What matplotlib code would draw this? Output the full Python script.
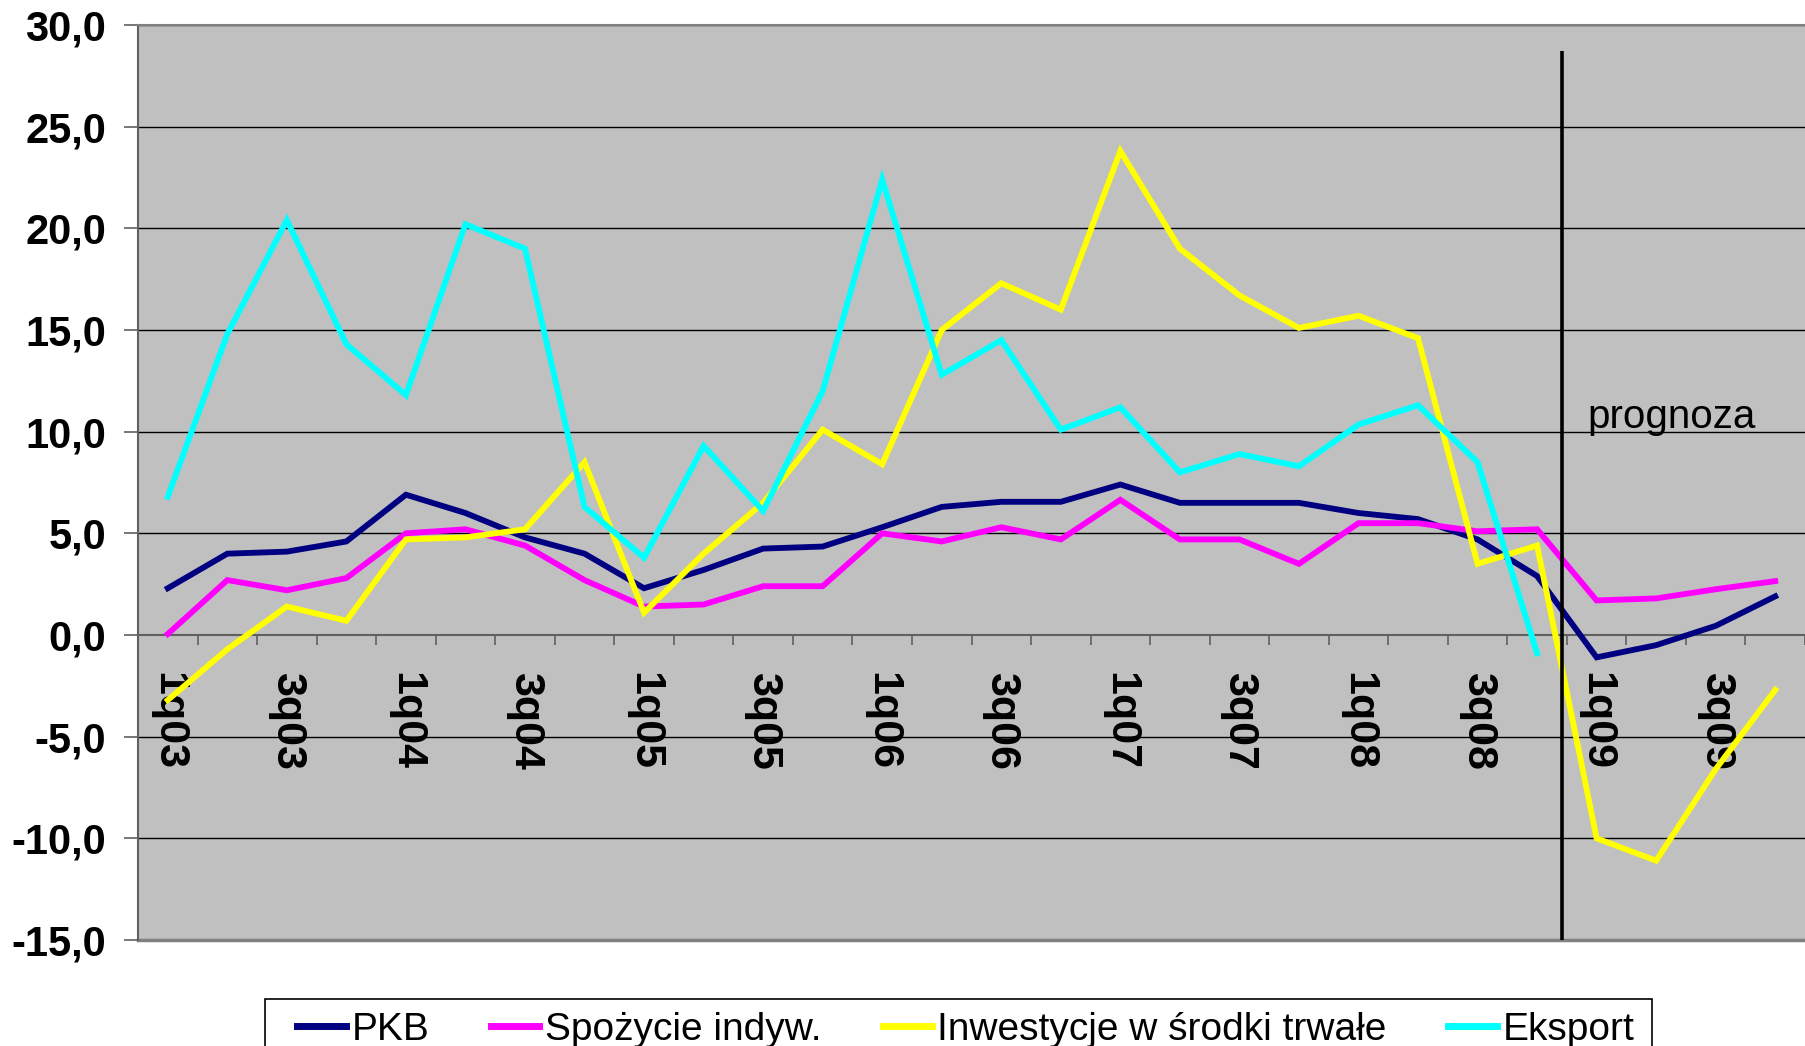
import matplotlib
matplotlib.use("Agg")
import matplotlib.pyplot as plt
from matplotlib.patches import Rectangle
from matplotlib.ticker import FixedLocator, FuncFormatter, NullFormatter
import numpy as np

# kwartały 2003-2009
kwartaly = [f"{q}q{r:02d}" for r in range(3, 10) for q in range(1, 5)]

pkb = [2.3, 4.0, 4.1, 4.6, 6.9, 6.0, 4.8, 4.0,
       2.3, 3.2, 4.25, 4.35, 5.3, 6.3, 6.55, 6.55,
       7.4, 6.5, 6.5, 6.5, 6.0, 5.7, 4.7, 2.9,
       -1.1, -0.5, 0.45, 1.9]
spozycie = [0.05, 2.7, 2.2, 2.8, 5.0, 5.2, 4.4, 2.7,
            1.4, 1.5, 2.4, 2.4, 5.0, 4.6, 5.3, 4.7,
            6.65, 4.7, 4.7, 3.5, 5.5, 5.5, 5.1, 5.2,
            1.7, 1.8, 2.25, 2.65]
inwestycje = [-3.2, -0.7, 1.4, 0.7, 4.7, 4.8, 5.2, 8.5,
              1.1, 4.0, 6.5, 10.1, 8.4, 15.0, 17.3, 16.0,
              23.8, 19.0, 16.7, 15.1, 15.7, 14.6, 3.5, 4.4,
              -10.0, -11.1, -6.6, -2.7]
eksport = [6.8, 14.8, 20.4, 14.3, 11.8, 20.2, 19.0, 6.3,
           3.8, 9.3, 6.1, 12.0, 22.4, 12.8, 14.5, 10.1,
           11.2, 8.0, 8.9, 8.3, 10.35, 11.3, 8.5, -0.9]

serie = [
    ("PKB", pkb, "#000080"),
    ("Spożycie indyw.", spozycie, "#FF00FF"),
    ("Inwestycje w środki trwałe", inwestycje, "#FFFF00"),
    ("Eksport", eksport, "#00FFFF"),
]

# granica prognozy: między 4q08 a 1q09
granica_prognozy = 23.42

plt.rcParams["font.family"] = ["Liberation Sans", "DejaVu Sans"]

W, H = 1805, 1046
fig = plt.figure(figsize=(W / 100, H / 100), dpi=100)
ax = fig.add_axes([138 / W, (H - 940) / H, (W - 138) / W, (940 - 25) / H])
ax.set_facecolor("#C0C0C0")

for nazwa, wartosci, kolor in serie:
    ax.plot(np.arange(len(wartosci)), wartosci, color=kolor, lw=4.2,
            label=nazwa, solid_joinstyle="miter", zorder=3)

ax.set_xlim(-0.5, len(kwartaly) - 0.5)
ax.set_ylim(-15, 30)

# siatka pozioma
for y in range(-10, 31, 5):
    if y == 0:
        continue
    ax.axhline(y, color="black", lw=1.0, zorder=1)

# oś kategorii przecina oś wartości w zerze
ax.spines["bottom"].set_position(("data", 0))
ax.spines["bottom"].set_color("#606060")
ax.spines["bottom"].set_linewidth(1.5)
ax.spines["left"].set_color("#606060")
ax.spines["left"].set_linewidth(1.5)
ax.spines["top"].set_color("#808080")
ax.spines["top"].set_linewidth(1.5)
ax.spines["right"].set_visible(False)
ax.axhline(-15, color="#808080", lw=2.5, zorder=1, clip_on=False)

ax.xaxis.set_major_locator(FixedLocator(np.arange(-0.5, len(kwartaly), 1.0)))
ax.xaxis.set_major_formatter(NullFormatter())
etykiety_x = np.arange(0, len(kwartaly), 2)
ax.xaxis.set_minor_locator(FixedLocator(etykiety_x))
ax.xaxis.set_minor_formatter(FuncFormatter(lambda v, p: kwartaly[int(round(v))]))
ax.tick_params(axis="x", which="major", direction="out", length=7.5, width=1.2,
               color="#606060")
ax.tick_params(axis="x", which="minor", length=0, pad=27, labelsize=31,
               labelrotation=-90)
for lab in ax.xaxis.get_minorticklabels():
    lab.set_fontweight("bold")

ax.yaxis.set_major_locator(FixedLocator(np.arange(-15, 31, 5)))
ax.yaxis.set_major_formatter(FuncFormatter(lambda v, p: f"{v:.1f}".replace(".", ",")))
ax.tick_params(axis="y", direction="out", length=10, width=1.2, color="#606060",
               pad=13, labelsize=30)
for lab in ax.get_yticklabels():
    lab.set_fontweight("bold")

# linia oddzielająca prognozę
ax.vlines(granica_prognozy, -15, 28.7, color="black", lw=2.6, zorder=4)
ax.text(23.85, 10.2, "prognoza", fontsize=29, ha="left", va="baseline", zorder=5)

# ramka legendy (dolna krawędź obcięta przez brzeg rysunku)
fig.patches.append(Rectangle((265 / W, -0.01), (1652 - 265) / W, 0.01 + (H - 999) / H,
                             transform=fig.transFigure, facecolor="white",
                             edgecolor="black", lw=1.2, zorder=0))
leg = fig.legend(loc="upper left", bbox_to_anchor=(297 / W, 1 - 1012 / H),
                 ncol=4, fontsize=28, frameon=False,
                 handlelength=1.25, handletextpad=0.15, columnspacing=1.58,
                 borderpad=0, borderaxespad=0)
for linia in leg.get_lines():
    linia.set_linewidth(5)

fig.savefig("out.png", dpi=100)
